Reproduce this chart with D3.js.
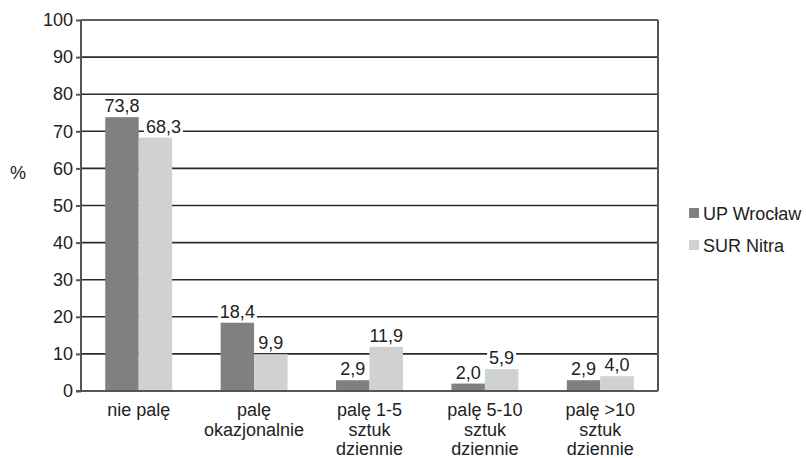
<!DOCTYPE html>
<html>
<head>
<meta charset="utf-8">
<script src="https://cdn.jsdelivr.net/npm/d3@7"></script>
<style>
  body { margin: 0; background: #fff; }
  svg text { font-family: "Liberation Sans", Arial, sans-serif; fill: #222; }
</style>
</head>
<body>
<div id="chart"></div>
<script>
// Data
const categories = ['nie palę', 'palę okazjonalnie', 'palę 1-5 sztuk dziennie', 'palę 5-10 sztuk dziennie', 'palę >10 sztuk dziennie'];
const categoryLines = [['nie palę'], ['palę', 'okazjonalnie'], ['palę 1-5', 'sztuk', 'dziennie'], ['palę 5-10', 'sztuk', 'dziennie'], ['palę >10', 'sztuk', 'dziennie']];
const seriesNames = ['UP Wrocław', 'SUR Nitra'];
const upWroclaw = [73.8, 18.4, 2.9, 2.0, 2.9];
const surNitra = [68.3, 9.9, 11.9, 5.9, 4.0];
const yTicks = [0, 10, 20, 30, 40, 50, 60, 70, 80, 90, 100];
const colors = ['#808083', '#d0d1d3'];

const fontSize = '18px';
const width = 806, height = 458;
const margin = { top: 20, right: 148, bottom: 67, left: 81 };
const chartWidth = width - margin.left - margin.right;
const chartHeight = height - margin.top - margin.bottom;

const svg = d3.select('#chart').append('svg')
    .attr('width', width)
    .attr('height', height);

const chart = svg.append('g')
    .attr('transform', `translate(${margin.left}, ${margin.top})`);

// Scales
const xScale = d3.scaleBand()
    .domain(categories)
    .range([0, chartWidth])
    .paddingInner(0.42)
    .paddingOuter(0.21);

const xInner = d3.scaleBand()
    .domain(seriesNames)
    .range([0, xScale.bandwidth()]);

const yScale = d3.scaleLinear()
    .domain([0, 100])
    .range([chartHeight, 0]);

// Gridlines
chart.append('g')
    .selectAll('line')
    .data(yTicks.filter(d => d > 0))
    .enter()
    .append('line')
    .attr('x1', 0)
    .attr('x2', chartWidth)
    .attr('y1', d => yScale(d))
    .attr('y2', d => yScale(d))
    .attr('stroke', '#2a2a2a')
    .attr('stroke-width', 1.6);

// Right frame line
chart.append('line')
    .attr('x1', chartWidth)
    .attr('x2', chartWidth)
    .attr('y1', 0)
    .attr('y2', chartHeight)
    .attr('stroke', '#555')
    .attr('stroke-width', 2);

// Bars
const rows = categories.map((c, i) => ({ cat: c, values: [upWroclaw[i], surNitra[i]] }));

const groups = chart.selectAll('.group')
    .data(rows)
    .enter()
    .append('g')
    .attr('transform', d => `translate(${xScale(d.cat)}, 0)`);

groups.selectAll('rect')
    .data(d => d.values.map((v, j) => ({ name: seriesNames[j], value: v, j })))
    .enter()
    .append('rect')
    .attr('x', d => xInner(d.name))
    .attr('y', d => yScale(d.value))
    .attr('width', xInner.bandwidth())
    .attr('height', d => chartHeight - yScale(d.value))
    .attr('fill', d => colors[d.j]);

// Value labels with white background
const labels = groups.selectAll('.vlabel')
    .data(d => d.values.map((v, j) => ({ name: seriesNames[j], value: v, j })))
    .enter()
    .append('g')
    .attr('class', 'vlabel');

labels.append('text')
    .attr('x', d => xInner(d.name) + xInner.bandwidth() / 2 + (d.j === 1 && d.value > 50 ? 8 : 0))
    .attr('y', d => yScale(d.value) - 5)
    .attr('text-anchor', 'middle')
    .style('font-size', fontSize)
    .text(d => d.value.toFixed(1).replace('.', ','));

labels.each(function () {
    const t = d3.select(this).select('text');
    const b = t.node().getBBox();
    d3.select(this).insert('rect', 'text')
        .attr('x', b.x - 2)
        .attr('y', b.y + 2)
        .attr('width', b.width + 4)
        .attr('height', b.height - 3)
        .attr('fill', '#fff');
});

// Y axis
const yAxis = d3.axisLeft(yScale)
    .tickValues(yTicks)
    .tickSize(5)
    .tickPadding(3);

const yG = chart.append('g').call(yAxis);
yG.select('.domain').attr('stroke', '#555').attr('stroke-width', 2).attr('d', `M0,${chartHeight}V0`);
yG.selectAll('.tick line').attr('stroke', '#555').attr('stroke-width', 2);
yG.selectAll('.tick text')
    .style('font-size', fontSize)
    .attr('fill', '#222');

// X axis baseline
const xAxis = d3.axisBottom(xScale).tickSize(0).tickFormat('');
const xG = chart.append('g')
    .attr('transform', `translate(0, ${chartHeight})`)
    .call(xAxis);
xG.select('.domain').attr('stroke', '#555').attr('stroke-width', 2).attr('d', `M-5,0H${chartWidth}`);

// Category labels (multi-line)
const catLabels = chart.append('g')
    .selectAll('text')
    .data(categories)
    .enter()
    .append('text')
    .attr('x', d => xScale(d) + xScale.bandwidth() / 2)
    .attr('y', chartHeight + 25)
    .attr('text-anchor', 'middle')
    .style('font-size', fontSize);

catLabels.selectAll('tspan')
    .data((d, i) => categoryLines[i])
    .enter()
    .append('tspan')
    .attr('x', function () { return d3.select(this.parentNode).attr('x'); })
    .attr('dy', (d, i) => i === 0 ? 0 : 19.5)
    .text(d => d);

// Y label
svg.append('text')
    .attr('x', 18)
    .attr('y', 179)
    .attr('text-anchor', 'middle')
    .style('font-size', fontSize)
    .text('%');

// Legend
const legend = svg.append('g')
    .attr('transform', 'translate(689, 208)');

seriesNames.forEach((name, i) => {
    legend.append('rect')
        .attr('x', 0)
        .attr('y', i * 32)
        .attr('width', 10)
        .attr('height', 10)
        .attr('fill', colors[i]);
    legend.append('text')
        .attr('x', 14)
        .attr('y', i * 32 + 12)
        .style('font-size', fontSize)
        .text(name);
});
</script>
</body>
</html>
